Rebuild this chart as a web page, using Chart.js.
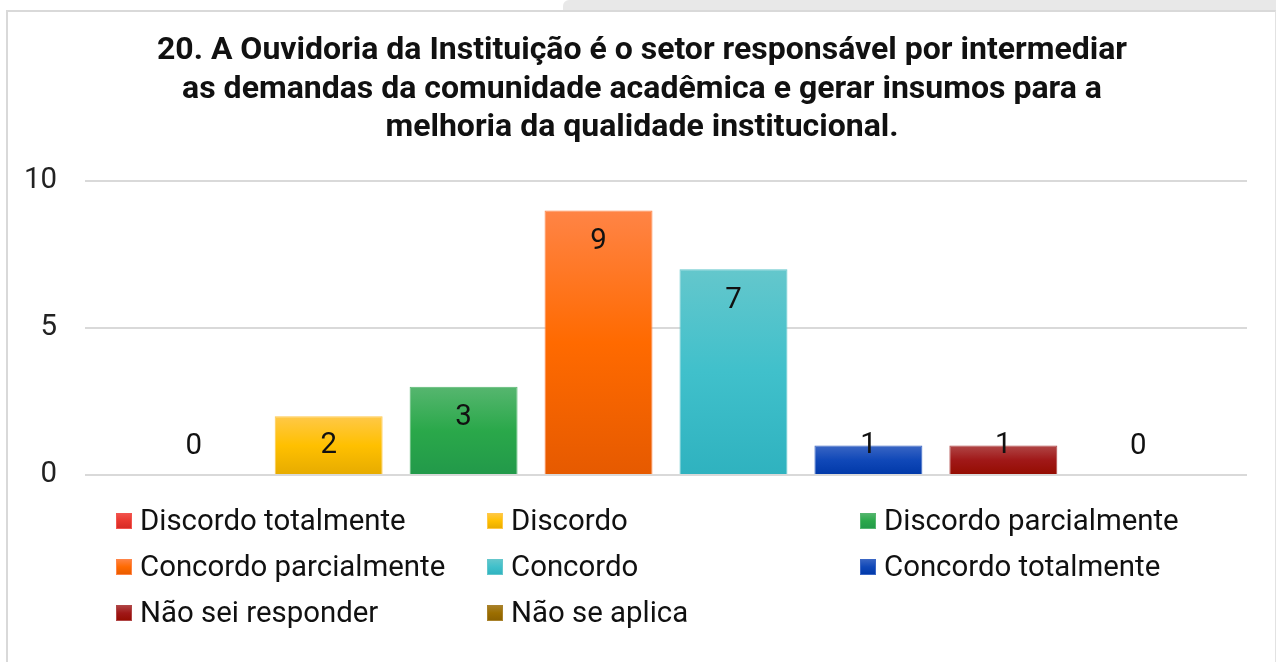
<!DOCTYPE html>
<html>
<head>
<meta charset="utf-8">
<script src="https://cdn.jsdelivr.net/npm/chart.js@4.4.1/dist/chart.umd.min.js"></script>
<style>
  html, body { margin: 0; padding: 0; background: #ffffff; width: 1276px; height: 662px; overflow: hidden; }
  #strip { position: absolute; left: 563px; top: 0; width: 713px; height: 10px; background: #e8e8e8; border-top-left-radius: 6px; }
  #frame { position: absolute; left: 6px; top: 10px; width: 1267px; height: 660px; background: #ffffff;
           border-left: 2px solid #d9d9d9; border-top: 2px solid #d9d9d9; border-right: 1px solid #e2e2e2; }
  #c { position: absolute; left: 0; top: 0; }
</style>
</head>
<body>
<div id="strip"></div>
<div id="frame"></div>
<canvas id="c" width="1276" height="662"></canvas>
<script>
const titleLines = [
  "20. A Ouvidoria da Instituição é o setor responsável por intermediar",
  "as demandas da comunidade acadêmica e gerar insumos para a",
  "melhoria da qualidade institucional."
];
const categories = [
  "Discordo totalmente", "Discordo", "Discordo parcialmente",
  "Concordo parcialmente", "Concordo", "Concordo totalmente",
  "Não sei responder", "Não se aplica"
];
const values = [0, 2, 3, 9, 7, 1, 1, 0];
const yTicks = [0, 5, 10];
// gradient colours per category: [light, mid, dark]
const palette = [
  ["#f2544e", "#e8382f", "#d42a24"],
  ["#ffc848", "#ffc000", "#e6ab00"],
  ["#56b66f", "#2aa84a", "#22994a"],
  ["#ff8446", "#ff6a00", "#e65a00"],
  ["#64c7cc", "#40c0cb", "#2fb2bf"],
  ["#3a66c4", "#1048b8", "#0038a8"],
  ["#b04646", "#a01818", "#940c00"],
  ["#a9822c", "#9c6e00", "#8a6000"]
];

const FONT = "Roboto";
const TEXT_SIZE = 29.4;

function barGradient(chart, idx, top, bot) {
  const p = palette[idx];
  if (!isFinite(top) || !isFinite(bot) || top === bot) return p[1];
  const g = chart.ctx.createLinearGradient(0, top, 0, bot);
  g.addColorStop(0, p[0]);
  g.addColorStop(0.5, p[1]);
  g.addColorStop(1, p[2]);
  return g;
}

const datasets = categories.map((name, i) => ({
  label: name,
  data: [values[i]],
  backgroundColor: (ctx) => {
    const chart = ctx.chart;
    if (!chart.chartArea || !chart.scales.y) return palette[i][1];
    const y = chart.scales.y;
    return barGradient(chart, i, y.getPixelForValue(values[i]), y.getPixelForValue(0));
  },
  borderColor: palette[i][0],
  borderWidth: 1,
  categoryPercentage: 0.929,
  barPercentage: 0.80
}));

const valueLabels = {
  id: 'valueLabels',
  afterDatasetsDraw(chart) {
    const ctx = chart.ctx;
    ctx.save();
    ctx.font = TEXT_SIZE + "px " + FONT;
    ctx.fillStyle = "#111111";
    ctx.textAlign = "center";
    ctx.textBaseline = "middle";
    chart.data.datasets.forEach((ds, i) => {
      const el = chart.getDatasetMeta(i).data[0];
      if (!el) return;
      const yy = Math.min(el.y + 31, el.base - 28);
      ctx.fillText(String(ds.data[0]), el.x, yy);
    });
    ctx.restore();
  }
};

const gridLegend = {
  id: 'gridLegend',
  afterDraw(chart) {
    const ctx = chart.ctx;
    const colX = [116, 487, 860];
    const rowY = [521, 567, 613];
    const box = 16;
    ctx.save();
    ctx.font = TEXT_SIZE + "px " + FONT;
    ctx.textAlign = "left";
    ctx.textBaseline = "alphabetic";
    categories.forEach((name, i) => {
      const x = colX[i % 3];
      const y = rowY[Math.floor(i / 3)];
      const top = y - box / 2;
      ctx.fillStyle = barGradient(chart, i, top, top + box);
      ctx.fillRect(x, top, box, box);
      ctx.strokeStyle = palette[i][0];
      ctx.lineWidth = 1;
      ctx.strokeRect(x + 0.5, top + 0.5, box - 1, box - 1);
      ctx.fillStyle = "#111111";
      ctx.fillText(name, x + 24, y + 8.5);
    });
    ctx.restore();
  }
};

new Chart(document.getElementById('c'), {
  type: 'bar',
  data: { labels: [""], datasets },
  options: {
    responsive: false,
    animation: false,
    devicePixelRatio: 1,
    layout: { padding: { left: 20, right: 12, top: 0, bottom: 187 } },
    plugins: {
      legend: { display: false },
      tooltip: { enabled: false },
      title: {
        display: true,
        text: titleLines,
        color: "#111111",
        font: { family: FONT, size: 32, weight: "bold", lineHeight: 1.2 },
        padding: { top: 32, bottom: 33.8 }
      }
    },
    scales: {
      x: { display: false },
      y: {
        min: 0, max: 10,
        afterBuildTicks: (s) => { s.ticks = yTicks.map(v => ({ value: v })); },
        afterFit: (s) => { s.width = 65; },
        ticks: { color: "#222222", padding: 28, font: { family: FONT, size: TEXT_SIZE } },
        grid: { color: "#d9d9d9", lineWidth: 2, drawTicks: false },
        border: { display: false }
      },
      yRight: {
        position: 'right',
        display: true,
        ticks: { display: false },
        grid: { display: false, drawTicks: false },
        border: { display: false },
        afterFit: (s) => { s.width = 17; }
      }
    }
  },
  plugins: [valueLabels, gridLegend]
});
</script>
</body>
</html>
